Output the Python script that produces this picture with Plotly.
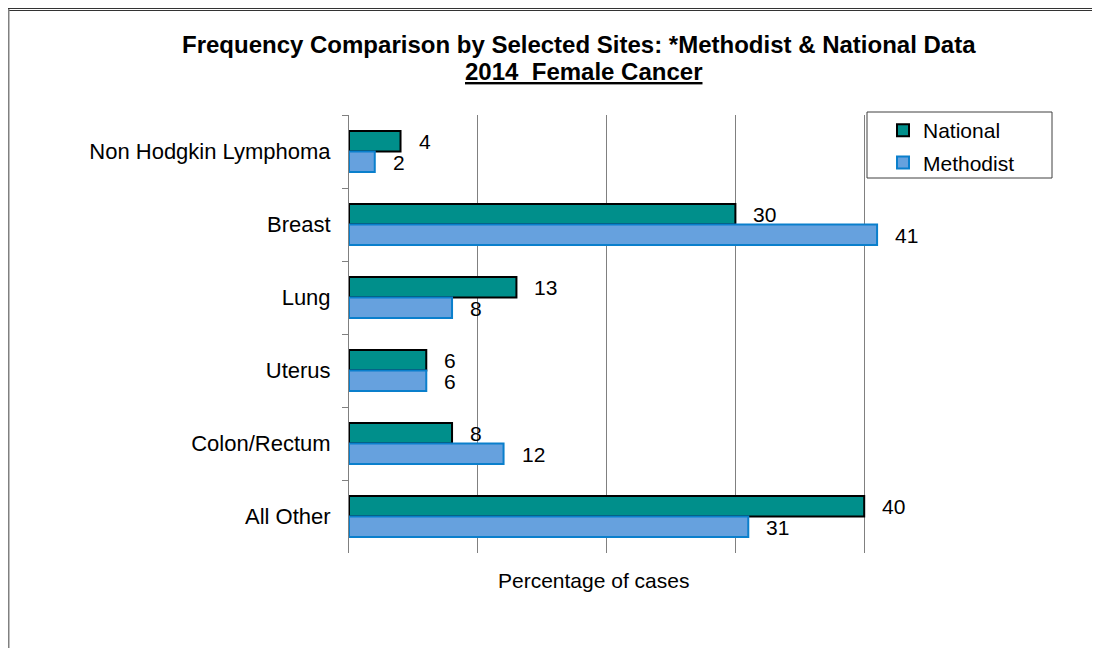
import plotly.graph_objects as go

# ---- data ----
categories = ["Non Hodgkin Lymphoma", "Breast", "Lung", "Uterus", "Colon/Rectum", "All Other"]
national = [4, 30, 13, 6, 8, 40]
methodist = [2, 41, 8, 6, 12, 31]
series_names = ["National", "Methodist"]
title_line1 = "Frequency Comparison by Selected Sites: *Methodist & National Data"
title_line2 = "2014\u00a0 Female Cancer"
x_title = "Percentage of cases"

# ---- layout geometry (figure pixels; page adds an 8px body margin) ----
W, H = 1100, 648
OFF = 8
L, R, T, B = 349 - OFF, 993 - OFF, 115 - OFF, 553 - OFF
FONT = "Liberation Sans, Arial, sans-serif"


def px(x):  # screen x -> paper
    return (x - OFF - L) / (R - L)


def py(y):  # screen y -> paper
    return (B - (y - OFF)) / (B - T)


fig = go.Figure()
fig.add_trace(go.Bar(
    y=categories, x=national, name=series_names[0], orientation="h",
    marker=dict(color="#008F8B", line=dict(color="#000000", width=2)),
    legendgroup="a", hoverinfo="skip",
))
fig.add_trace(go.Bar(
    y=categories, x=methodist, name=series_names[1], orientation="h",
    marker=dict(color="#66A1DE", line=dict(color="#0A7FCC", width=2)),
    legendgroup="b", hoverinfo="skip",
))

annotations = []
for cat, v in zip(categories, national):
    annotations.append(dict(x=v, y=cat, xref="x", yref="y", text=str(v), showarrow=False,
                            xanchor="left", yanchor="middle", xshift=16, yshift=10.5,
                            font=dict(family=FONT, size=21, color="#000")))
for cat, v in zip(categories, methodist):
    annotations.append(dict(x=v, y=cat, xref="x", yref="y", text=str(v), showarrow=False,
                            xanchor="left", yanchor="middle", xshift=16, yshift=-10.5,
                            font=dict(family=FONT, size=21, color="#000")))

# titles
annotations.append(dict(x=px(579), y=py(45), xref="paper", yref="paper", text="<b>" + title_line1 + "</b>",
                        showarrow=False, xanchor="center", yanchor="middle",
                        font=dict(family=FONT, size=24, color="#000")))
annotations.append(dict(x=px(583), y=py(72), xref="paper", yref="paper", text="<b><u>" + title_line2 + "</u></b>",
                        showarrow=False, xanchor="center", yanchor="middle",
                        font=dict(family=FONT, size=24, color="#000")))
annotations.append(dict(x=px(593), y=py(580), xref="paper", yref="paper", text=x_title,
                        showarrow=False, xanchor="center", yanchor="middle",
                        font=dict(family=FONT, size=21, color="#000")))

shapes = [
    # legend box
    dict(type="rect", xref="paper", yref="paper", x0=px(867), x1=px(1052), y0=py(112), y1=py(178),
         line=dict(color="#404040", width=1), fillcolor="white", layer="above"),
    # outer frame
    dict(type="line", xref="paper", yref="paper", x0=px(0), x1=px(1110), y0=py(8.5), y1=py(8.5),
         line=dict(color="#333333", width=1)),
    dict(type="line", xref="paper", yref="paper", x0=px(0), x1=px(1110), y0=py(10.5), y1=py(10.5),
         line=dict(color="#333333", width=1)),
    dict(type="line", xref="paper", yref="paper", x0=px(8.5), x1=px(8.5), y0=py(9), y1=py(660),
         line=dict(color="#808080", width=2)),
]

fig.update_layout(
    width=W, height=H,
    margin=dict(l=L, r=W - R, t=T, b=H - B, pad=0),
    paper_bgcolor="white", plot_bgcolor="white",
    barmode="group", bargap=0.44, bargroupgap=0,
    font=dict(family=FONT, size=21, color="#000"),
    showlegend=True,
    legend=dict(x=px(883), y=py(110), xanchor="left", yanchor="top",
                bgcolor="rgba(0,0,0,0)", borderwidth=0,
                font=dict(family=FONT, size=21, color="#000"),
                traceorder="grouped", tracegroupgap=2),
    annotations=annotations,
    shapes=shapes,
    xaxis=dict(range=[0, 50], dtick=10, tick0=0, showgrid=True, gridcolor="#808080", gridwidth=1,
               showticklabels=False, zeroline=False, showline=False, ticks="", fixedrange=True),
    yaxis=dict(autorange="reversed", showline=True, linecolor="#808080", linewidth=1,
               ticks="outside", tickson="boundaries", ticklen=6, tickcolor="#808080",
               ticklabelstandoff=13, tickfont=dict(family=FONT, size=22, color="#000"),
               showgrid=False, zeroline=False, fixedrange=True),
)

fig.write_html("out.html")
